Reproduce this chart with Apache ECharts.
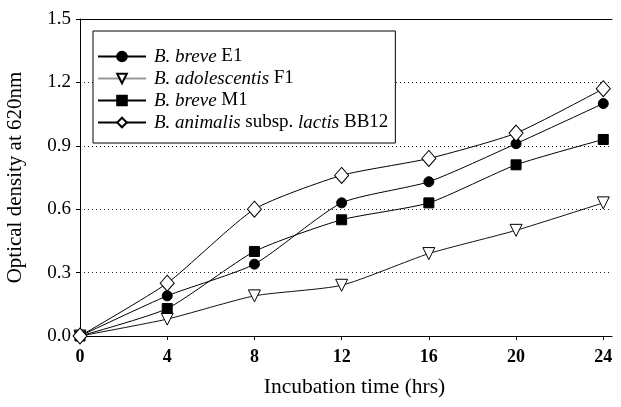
<!DOCTYPE html>
<html>
<head>
<meta charset="utf-8">
<script src="https://cdn.jsdelivr.net/npm/echarts@6/dist/echarts.min.js"></script>
<style>
  html, body { margin: 0; padding: 0; background: #fff; }
  #chart { width: 621px; height: 407px; }
</style>
</head>
<body>
<div id="chart"></div>
<script>
// Incubation time points (hours)
const hours = [0, 4, 8, 12, 16, 20, 24];

// Optical density at 620 nm for each strain
const breveE1 = [0.00, 0.19, 0.34, 0.63, 0.73, 0.91, 1.10];
const adolescentisF1 = [0.00, 0.08, 0.19, 0.24, 0.39, 0.50, 0.63];
const breveM1 = [0.00, 0.13, 0.40, 0.55, 0.63, 0.81, 0.93];
const animalisBB12 = [0.00, 0.25, 0.60, 0.76, 0.84, 0.96, 1.17];

// Legend labels: italic species part and roman strain part
const speciesNames = ['B. breve', 'B. adolescentis', 'B. breve', 'B. animalis'];
const strainNames = ['E1', 'F1', 'M1', 'subsp. {i|lactis} BB12'];
const seriesNames = ['B. breve E1', 'B. adolescentis F1', 'B. breve M1', 'B. animalis subsp. lactis BB12'];

// Y axis ticks
const yTicks = [0.0, 0.3, 0.6, 0.9, 1.2, 1.5];

const serif = 'Liberation Serif';
const curve = 0.2;

function pairs(values) {
  return hours.map((h, i) => [h, values[i]]);
}

const chart = echarts.init(document.getElementById('chart'), null, { renderer: 'canvas' });

const lineStyle = { color: '#000', width: 1 };

const option = {
  backgroundColor: '#fff',
  animation: false,
  grid: { left: 80, right: 9, top: 19, bottom: 71, containLabel: false, outerBoundsMode: 'none' },
  legend: {
    orient: 'vertical',
    left: 93,
    top: 31,
    padding: [16, 7, 11, 4],
    itemGap: 3,
    itemWidth: 48,
    itemHeight: 12,
    borderColor: '#000',
    borderWidth: 1,
    backgroundColor: '#fff',
    data: seriesNames.map(function (n, k) {
      return k === 1 ? { name: n, lineStyle: { color: '#999' } } : { name: n };
    }),
    formatter: function (name) {
      const k = seriesNames.indexOf(name);
      return '{i|' + speciesNames[k] + '} ' + strainNames[k];
    },
    textStyle: {
      fontFamily: serif,
      fontSize: 19,
      lineHeight: 19,
      color: '#000',
      padding: [0, 0, 0, 3],
      rich: {
        i: { fontFamily: serif, fontStyle: 'italic', fontSize: 19, lineHeight: 19, color: '#000' }
      }
    }
  },
  xAxis: [{
    type: 'value',
    min: 0,
    max: 24.4,
    interval: 4,
    name: 'Incubation time (hrs)',
    nameLocation: 'middle',
    nameGap: 40,
    nameTextStyle: { fontFamily: serif, fontSize: 21.5, color: '#000', padding: [0, 0, 0, 17] },
    axisLine: { lineStyle: { color: '#000', width: 1 } },
    axisTick: { inside: false, length: 4, lineStyle: { color: '#000' } },
    axisLabel: {
      fontFamily: serif, fontSize: 18, fontWeight: 'bold', color: '#000', margin: 12,
      showMaxLabel: false,
      formatter: function (v) { return (v % 4 === 0) ? String(v) : ''; }
    },
    splitLine: { show: false }
  }, {
    type: 'value',
    position: 'top',
    min: 0,
    max: 24.4,
    axisLine: { show: true, lineStyle: { color: '#000', width: 1 } },
    axisTick: { show: false },
    axisLabel: { show: false },
    splitLine: { show: false }
  }],
  yAxis: {
    type: 'value',
    min: yTicks[0],
    max: yTicks[yTicks.length - 1],
    interval: 0.3,
    name: 'Optical density at 620nm',
    nameLocation: 'middle',
    nameGap: 54,
    nameTextStyle: { fontFamily: serif, fontSize: 21, color: '#000' },
    axisLine: { show: true, lineStyle: { color: '#000', width: 1 } },
    axisTick: { show: true, inside: false, length: 4, lineStyle: { color: '#000' } },
    axisLabel: {
      fontFamily: serif, fontSize: 19, color: '#000', margin: 9,
      formatter: function (v) { return v.toFixed(1); }
    },
    splitLine: { show: true, lineStyle: { color: '#222', type: [1, 3], width: 1 } }
  },
  series: [
    {
      name: seriesNames[0], type: 'line', smooth: curve,
      data: pairs(breveE1),
      symbol: 'circle', symbolSize: 10,
      itemStyle: { color: '#000', borderColor: '#000', borderWidth: 1 },
      lineStyle: lineStyle
    },
    {
      name: seriesNames[1], type: 'line', smooth: curve,
      data: pairs(adolescentisF1),
      symbol: 'triangle', symbolSize: 12, symbolRotate: 180,
      itemStyle: { color: '#fff', borderColor: '#000', borderWidth: 1 },
      lineStyle: { color: '#111', width: 1 }
    },
    {
      name: seriesNames[2], type: 'line', smooth: curve,
      data: pairs(breveM1),
      symbol: 'rect', symbolSize: 10,
      itemStyle: { color: '#000', borderColor: '#000', borderWidth: 1 },
      lineStyle: lineStyle
    },
    {
      name: seriesNames[3], type: 'line', smooth: curve,
      data: pairs(animalisBB12),
      symbol: 'diamond', symbolSize: [14, 16],
      itemStyle: { color: '#fff', borderColor: '#000', borderWidth: 1 },
      lineStyle: lineStyle
    }
  ]
};

chart.setOption(option);
</script>
</body>
</html>
